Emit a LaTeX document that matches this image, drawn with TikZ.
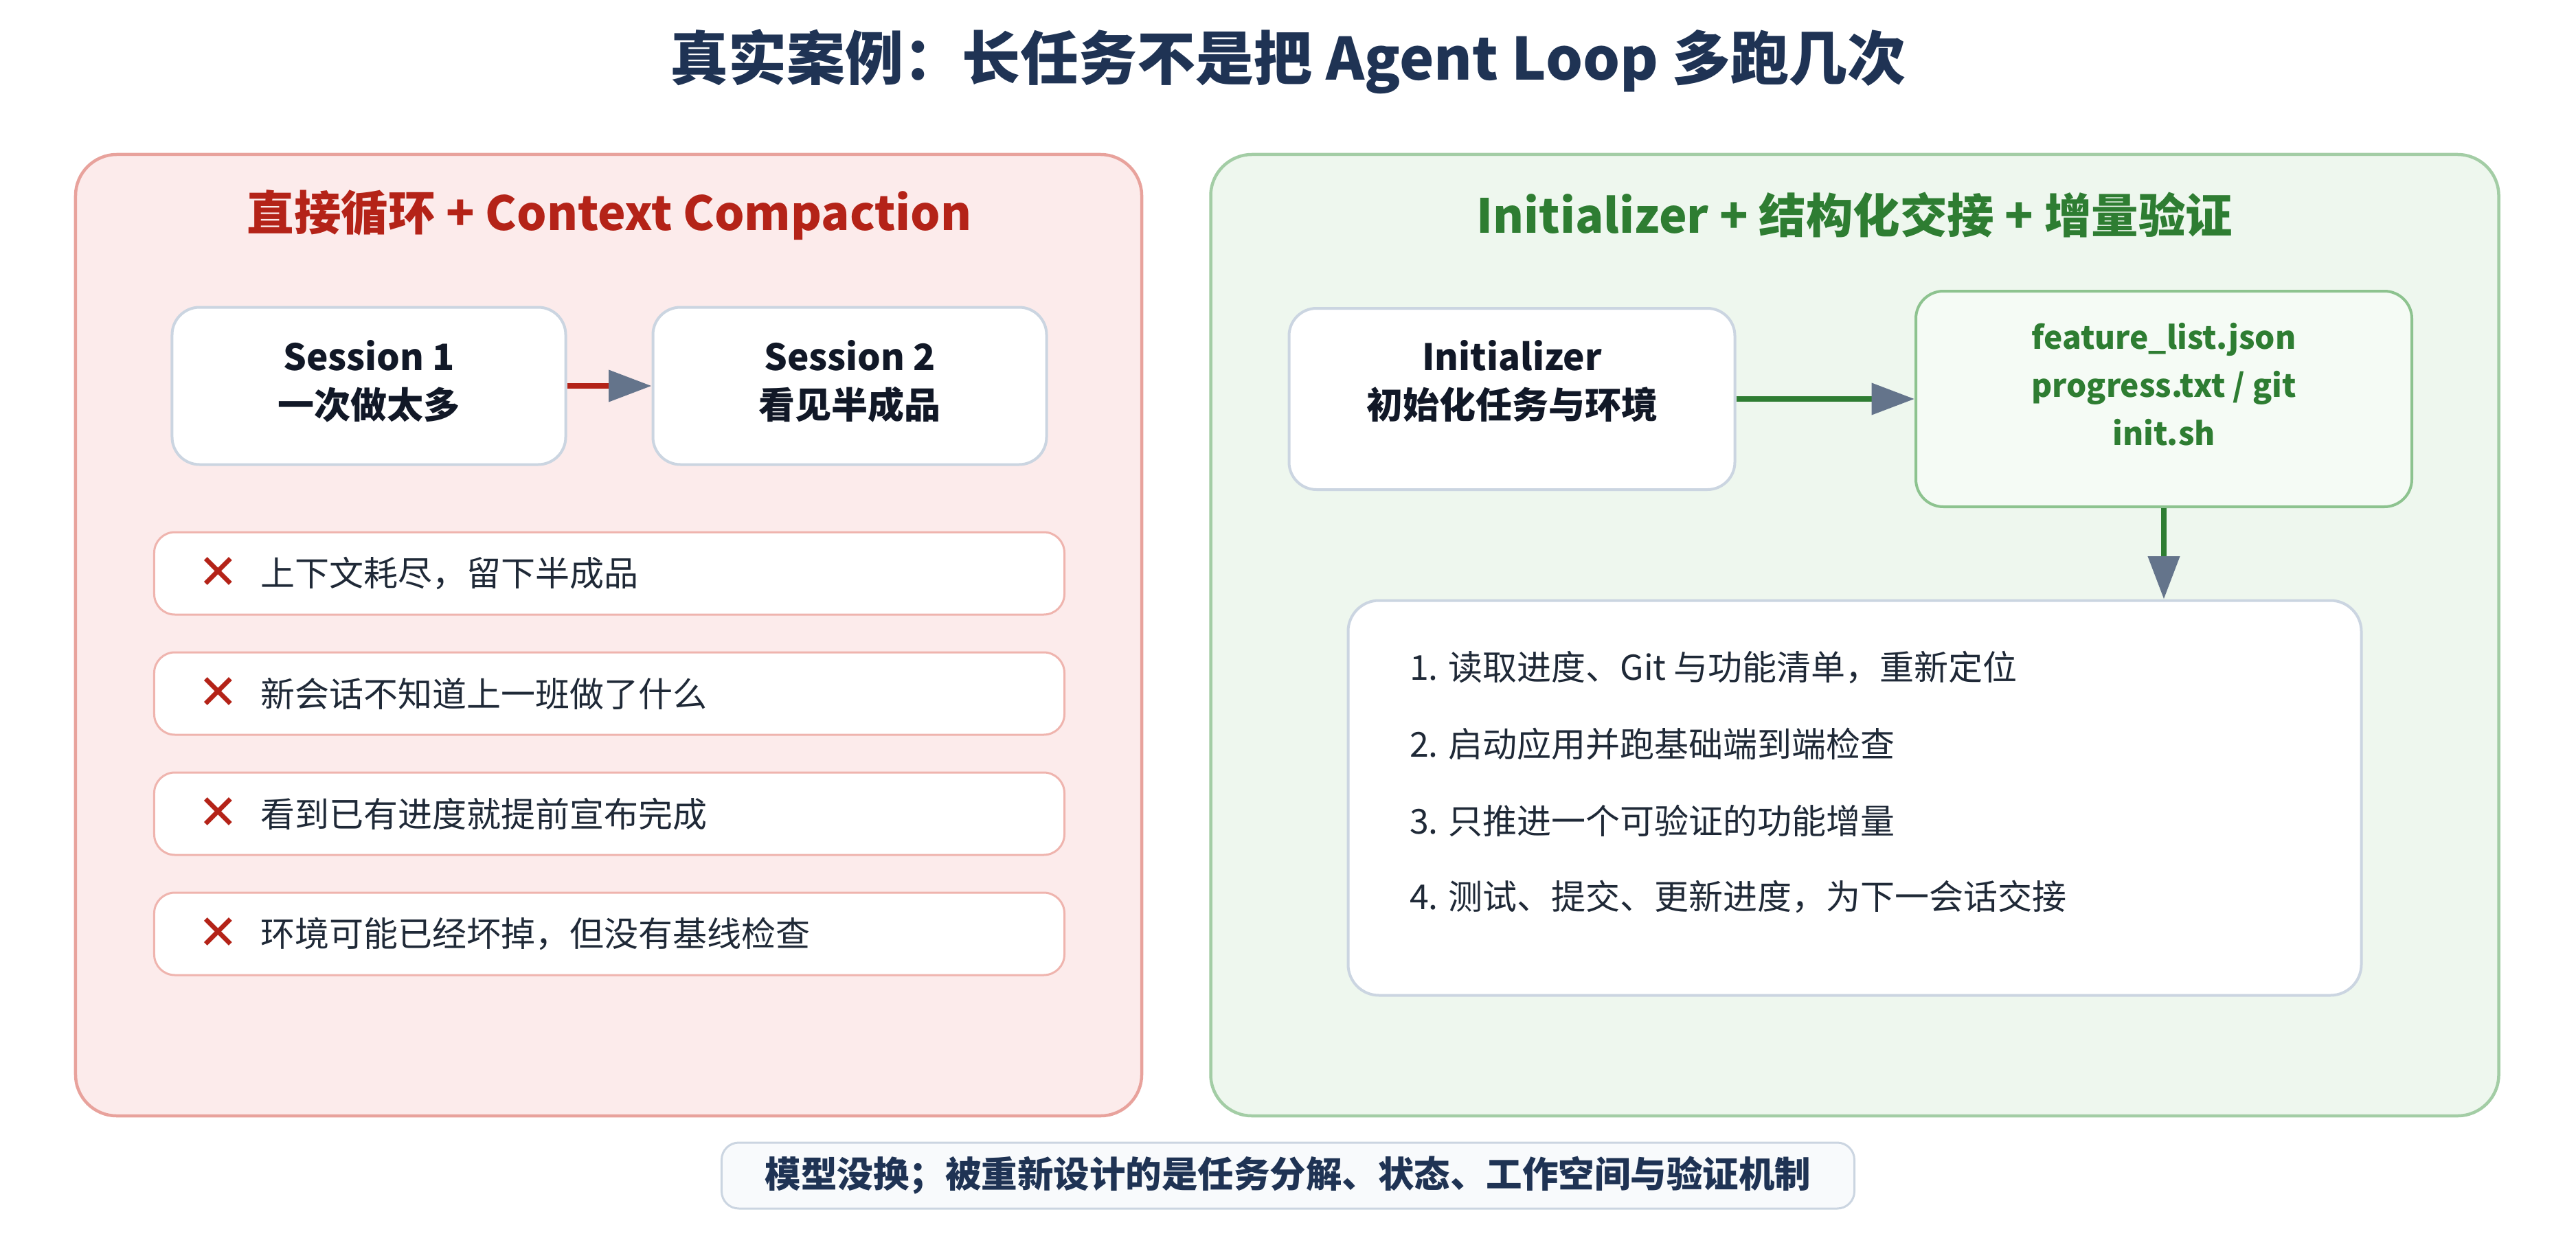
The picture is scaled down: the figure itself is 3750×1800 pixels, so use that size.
\documentclass[tikz,border=0pt]{standalone}
\usepackage{fontspec}
\setmainfont{Noto Sans CJK SC}
\newfontfamily\symfont{DejaVu Sans}
\usetikzlibrary{arrows.meta,positioning}
\definecolor{clTitle}{HTML}{1F3354}
\definecolor{clBad}{HTML}{B42318}
\definecolor{clBadLine}{HTML}{E8A29C}
\definecolor{clBadItem}{HTML}{EFB4AE}
\definecolor{clBadFill}{HTML}{FCEBEB}
\definecolor{clGood}{HTML}{2E7D32}
\definecolor{clGoodLine}{HTML}{A3CDA5}
\definecolor{clGoodFill}{HTML}{EEF7EE}
\definecolor{clFileLine}{HTML}{8DC38F}
\definecolor{clFileFill}{HTML}{F5FBF5}
\definecolor{clBorder}{HTML}{CBD5E1}
\definecolor{clNote}{HTML}{F8FAFC}
\definecolor{clInk}{HTML}{111827}
\definecolor{clText}{HTML}{1F2937}
\definecolor{clTip}{HTML}{64748B}
\tikzset{
  panel/.style={rectangle, rounded corners=12pt, line width=0.9pt,
                minimum width=#1, minimum height=280pt, inner sep=0pt},
  badpanel/.style={panel=310.4pt, draw=clBadLine, fill=clBadFill},
  goodpanel/.style={panel=375pt, draw=clGoodLine, fill=clGoodFill},
  paneltitle/.style={font=\fontsize{13.7}{17}\selectfont\bfseries},
  card/.style={rectangle, rounded corners=8pt, draw=clBorder, line width=0.8pt,
               fill=white, inner sep=0pt},
  cardtext/.style={align=center, text=clInk, font=\fontsize{10.6}{14}\selectfont\bfseries},
  item/.style={rectangle, rounded corners=6pt, draw=clBadItem, line width=0.6pt,
               fill=white, minimum width=265pt, minimum height=24pt, inner sep=0pt},
  cross/.style={text=clBad, font=\symfont\fontsize{14}{16}\selectfont, inner sep=0pt},
  itemtext/.style={anchor=west, text=clText, font=\fontsize{10}{12}\selectfont, inner sep=0pt},
  steptext/.style={anchor=west, text=clText, font=\fontsize{10}{12}\selectfont, inner sep=0pt},
  flow/.style={line width=1.5pt, -{Triangle[length=12.5pt, width=9pt, color=clTip]}},
}
\begin{document}
\begin{tikzpicture}[x=0.2pt, y=-0.2pt]
  \useasboundingbox (0,0) rectangle (3750,1800);
  \node[text=clTitle, font=\fontsize{17}{20}\selectfont\bfseries] (title) at (1875,90)
    {真实案例：长任务不是把 Agent Loop 多跑几次};

  % left panel
  \node[badpanel] (left) at (886,925) {};
  \node[paneltitle, text=clBad] (lefttitle) at (887,313) {直接循环 + Context Compaction};
  \node[card, minimum width=114.6pt, minimum height=45.8pt] (s1) at (537,562) {};
  \node[card, minimum width=114.6pt, minimum height=45.8pt] (s2) at (1237,562) {};
  \node[cardtext] (s1t) at (537,555) {Session 1\\一次做太多};
  \node[cardtext] (s2t) at (1237,555) {Session 2\\看见半成品};
  \draw[flow, draw=clBad] (s1.east) -- (s2.west);
  \foreach \t [count=\i] in {上下文耗尽，留下半成品, 新会话不知道上一班做了什么,
      看到已有进度就提前宣布完成, 环境可能已经坏掉，但没有基线检查} {
    \node[item] (bad\i) at (887,660+175*\i) {};
    \node[cross] (x\i) at (318,660+175*\i) {✕};
    \node[itemtext] (badt\i) at (378,660+175*\i) {\t};
  }

  % right panel
  \node[goodpanel] (right) at (2700,925) {};
  \node[paneltitle, text=clGood] (righttitle) at (2700,313) {Initializer + 结构化交接 + 增量验证};
  \node[card, minimum width=129.8pt, minimum height=52.8pt] (init) at (2201,581) {};
  \node[cardtext] (initt) at (2201,555) {Initializer\\初始化任务与环境};
  \node[card, draw=clFileLine, fill=clFileFill, minimum width=144.4pt, minimum height=62.8pt] (files) at (3150,581) {};
  \node[cardtext, text=clGood, font=\fontsize{9.2}{14}\selectfont\bfseries] (filest) at (3150,560)
    {feature\_list.json\\progress.txt / git\\init.sh};
  \node[card, rounded corners=9pt, minimum width=295pt, minimum height=115pt] (steps) at (2700,1162) {};
  \foreach \t [count=\i] in {1. 读取进度、Git 与功能清单，重新定位, 2. 启动应用并跑基础端到端检查,
      3. 只推进一个可验证的功能增量, 4. 测试、提交、更新进度，为下一会话交接} {
    \node[steptext] (step\i) at (2051,861+111.3*\i) {\t};
  }
  \draw[flow, draw=clGood] (init.east) -- (files.west);
  \draw[flow, draw=clGood] (files.south) -- (files.south |- steps.north);

  % bottom note
  \node[rectangle, rounded corners=5pt, draw=clBorder, line width=0.6pt, fill=clNote,
        minimum width=329.8pt, minimum height=19.2pt, inner sep=0pt,
        text=clTitle, font=\fontsize{10.5}{13}\selectfont\bfseries] (note) at (1875,1712)
    {模型没换；被重新设计的是任务分解、状态、工作空间与验证机制};
\end{tikzpicture}
\end{document}
